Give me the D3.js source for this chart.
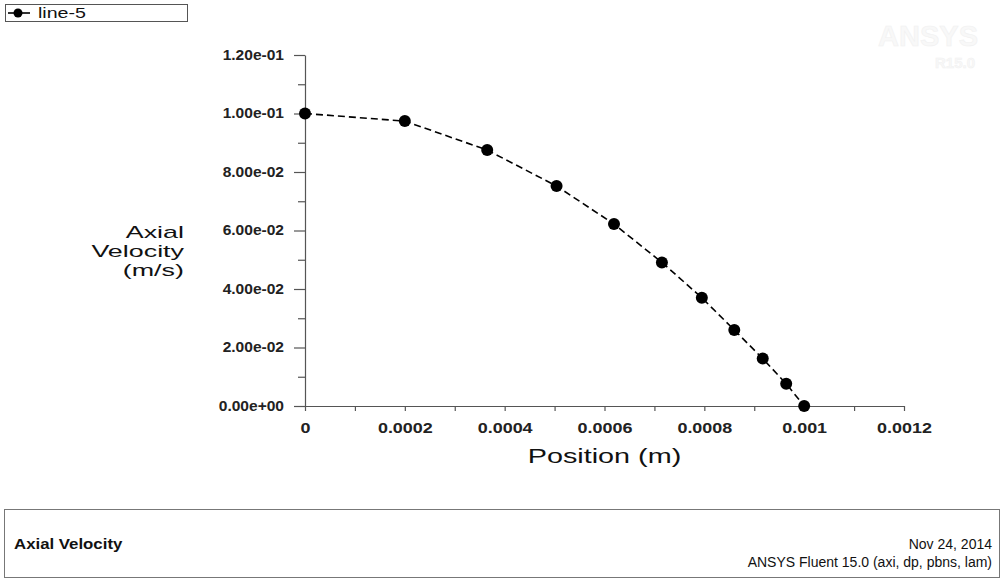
<!DOCTYPE html>
<html>
<head>
<meta charset="utf-8">
<script src="https://cdn.jsdelivr.net/npm/d3@7"></script>
<style>
  body { margin: 0; background: #fff; }
  svg { display: block; font-family: "Liberation Sans", Arial, sans-serif; }
</style>
</head>
<body>
<div id="chart"></div>
<script>
// data
var positions = [0, 0.0002, 0.000365, 0.000504, 0.000619, 0.000715, 0.000795, 0.00086, 0.000917, 0.000964, 0.001];
var velocities = [0.1, 0.0974, 0.0875, 0.0752, 0.0622, 0.0491, 0.0370, 0.0260, 0.0162, 0.0076, 0];

var xTicks = [0, 0.0002, 0.0004, 0.0006, 0.0008, 0.001, 0.0012];
var xTickLabels = ["0", "0.0002", "0.0004", "0.0006", "0.0008", "0.001", "0.0012"];
var yTicks = [0, 0.02, 0.04, 0.06, 0.08, 0.1, 0.12];
var yTickLabels = ["0.00e+00", "2.00e-02", "4.00e-02", "6.00e-02", "8.00e-02", "1.00e-01", "1.20e-01"];

var seriesName = "line-5";
var yTitle = ["Axial", "Velocity", "(m/s)"];
var xTitle = "Position (m)";
var footLeft = "Axial Velocity";
var footRight = ["Nov 24, 2014", "ANSYS Fluent 15.0 (axi, dp, pbns, lam)"];

var W = 1003, H = 580;

var svg = d3.select("#chart")
    .append("svg")
    .attr("width", W)
    .attr("height", H)
    .style("background-color", "#fff");

var x = d3.scaleLinear()
    .domain([0, 0.0012])
    .range([305, 904]);

var y = d3.scaleLinear()
    .domain([0, 0.12])
    .range([406, 55]);

// stretch text horizontally, Fluent's font is wider than Arial
function stretch(sel, k) {
    sel.each(function () {
        var w = this.getComputedTextLength();
        d3.select(this)
            .attr("textLength", w * k)
            .attr("lengthAdjust", "spacingAndGlyphs");
    });
}

// watermark (white on white, barely visible)
svg.append("text")
    .attr("x", 978).attr("y", 46)
    .attr("text-anchor", "end")
    .style("font-size", "29px").style("font-weight", "bold")
    .style("fill", "#f8f8f8")
    .style("stroke", "#f1f1f1").style("stroke-width", 0.6)
    .text("ANSYS");
svg.append("text")
    .attr("x", 975).attr("y", 68)
    .attr("text-anchor", "end")
    .style("font-size", "15px").style("font-weight", "bold")
    .style("fill", "#f8f8f8")
    .style("stroke", "#f1f1f1").style("stroke-width", 0.5)
    .text("R15.0");

// minor ticks
var xMinor = xTicks.slice(0, -1).map(function (d, i) { return (d + xTicks[i + 1]) / 2; });
var yMinor = yTicks.slice(0, -1).map(function (d, i) { return (d + yTicks[i + 1]) / 2; });

var xAxisG = svg.append("g")
    .attr("transform", "translate(0," + y(0) + ")")
    .call(d3.axisBottom(x)
        .tickValues(xTicks)
        .tickFormat(function (d, i) { return xTickLabels[i]; })
        .tickSize(5)
        .tickSizeOuter(0)
        .tickPadding(12));

svg.append("g")
    .attr("transform", "translate(0," + y(0) + ")")
    .call(d3.axisBottom(x)
        .tickValues(xMinor)
        .tickFormat("")
        .tickSize(5)
        .tickSizeOuter(0))
    .select(".domain").remove();

var yAxisG = svg.append("g")
    .attr("transform", "translate(" + x(0) + ",0)")
    .call(d3.axisLeft(y)
        .tickValues(yTicks)
        .tickFormat(function (d, i) { return yTickLabels[i]; })
        .tickSize(11)
        .tickSizeOuter(0)
        .tickPadding(10));

svg.append("g")
    .attr("transform", "translate(" + x(0) + ",0)")
    .call(d3.axisLeft(y)
        .tickValues(yMinor)
        .tickFormat("")
        .tickSize(7)
        .tickSizeOuter(0))
    .select(".domain").remove();

svg.selectAll(".domain, .tick line")
    .attr("stroke", "#555")
    .attr("stroke-width", 1.2);

xAxisG.selectAll("text")
    .style("font-size", "14px")
    .style("font-weight", "bold")
    .style("font-family", "\"Liberation Sans\", Arial, sans-serif")
    .attr("fill", "#222");
yAxisG.selectAll("text")
    .style("font-size", "14px")
    .style("font-weight", "bold")
    .style("font-family", "\"Liberation Sans\", Arial, sans-serif")
    .attr("fill", "#222");
stretch(xAxisG.selectAll("text"), 1.28);
stretch(yAxisG.selectAll("text"), 1.11);

// axis titles
var xt = svg.append("text")
    .attr("x", (x(0) + x(0.0012)) / 2)
    .attr("y", 463)
    .attr("text-anchor", "middle")
    .style("font-size", "21px")
    .style("fill", "#111")
    .text(xTitle);
stretch(xt, 1.37);

// y title: three tightly packed lines, right aligned
var yt = svg.append("text")
    .attr("text-anchor", "end")
    .style("font-size", "17px")
    .style("fill", "#111");
yt.selectAll("tspan")
    .data(yTitle)
    .enter()
    .append("tspan")
    .attr("x", 184)
    .attr("y", function (d, i) { return 238 + i * 19; })
    .text(function (d) { return d; });
stretch(yt.selectAll("tspan"), 1.58);

// the series
var pts = positions.map(function (p, i) { return [p, velocities[i]]; });

svg.append("path")
    .datum(pts)
    .attr("fill", "none")
    .attr("stroke", "#000")
    .attr("stroke-width", 1.6)
    .attr("stroke-dasharray", "7,4")
    .attr("d", d3.line()
        .x(function (d) { return x(d[0]); })
        .y(function (d) { return y(d[1]); }));

svg.selectAll("circle.pt")
    .data(pts)
    .enter()
    .append("circle")
    .attr("class", "pt")
    .attr("cx", function (d) { return x(d[0]); })
    .attr("cy", function (d) { return y(d[1]); })
    .attr("r", 6)
    .attr("fill", "#000");

// legend
var lg = svg.append("g");
lg.append("rect")
    .attr("x", 5.5).attr("y", 4.5)
    .attr("width", 182).attr("height", 17)
    .attr("fill", "#fff")
    .attr("stroke", "#555");
lg.append("line")
    .attr("x1", 8).attr("x2", 30)
    .attr("y1", 13).attr("y2", 13)
    .attr("stroke", "#000").attr("stroke-width", 1.6);
lg.append("circle")
    .attr("cx", 18).attr("cy", 13).attr("r", 4.5)
    .attr("fill", "#000");
var lt = lg.append("text")
    .attr("x", 38).attr("y", 18)
    .style("font-size", "14px")
    .style("fill", "#111")
    .text(seriesName);
stretch(lt, 1.4);

// footer box
svg.append("rect")
    .attr("x", 4.5).attr("y", 509.5)
    .attr("width", 995).attr("height", 68)
    .attr("fill", "none")
    .attr("stroke", "#777");

var fl = svg.append("text")
    .attr("x", 14).attr("y", 549)
    .style("font-size", "14px")
    .style("font-weight", "bold")
    .style("fill", "#111")
    .text(footLeft);
stretch(fl, 1.2);

footRight.forEach(function (t, i) {
    svg.append("text")
        .attr("x", 992).attr("y", 549 + i * 18)
        .attr("text-anchor", "end")
        .style("font-size", "14px")
        .style("fill", "#111")
        .text(t);
});
</script>
</body>
</html>
